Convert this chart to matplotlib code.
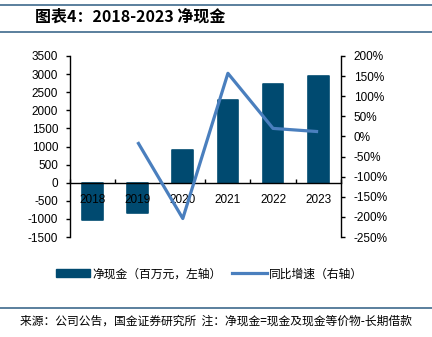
import matplotlib
matplotlib.use("Agg")
import matplotlib.pyplot as plt
from matplotlib.lines import Line2D
from matplotlib.patches import Patch
import numpy as np

plt.rcParams['font.family'] = ['Liberation Sans', 'Noto Sans CJK SC', 'DejaVu Sans']

years = ["2018", "2019", "2020", "2021", "2022", "2023"]
net_cash = [-1030, -850, 900, 2290, 2730, 2960]
growth_pct = [np.nan, -14, -204, 157, 20, 12]
left_ticks = [-1500, -1000, -500, 0, 500, 1000, 1500, 2000, 2500, 3000, 3500]
right_ticks = [-250, -200, -150, -100, -50, 0, 50, 100, 150, 200]

title = "图表4：2018-2023 净现金"
bar_label = "净现金（百万元，左轴）"
line_label = "同比增速（右轴）"
source = "来源：公司公告，国金证券研究所  注：净现金=现金及现金等价物-长期借款"

bar_color = "#004A70"
line_color = "#4A7FBE"
rule_color = "#3E6A8C"

fig = plt.figure(figsize=(4.32, 3.37), dpi=100)
ax = fig.add_axes([70/432, 1-237/337, (340.7-70)/432, (237-56)/337])
ax2 = ax.twinx()

x = np.arange(len(years))
ax.bar(x, net_cash, width=0.46, color=bar_color, edgecolor=bar_color,
       linewidth=1.2, joinstyle='round', zorder=2)
ax.set_xlim(-0.5, len(years)-0.5)
ax.set_ylim(-1500, 3500)
ax.set_yticks(left_ticks)
ax.set_yticklabels([str(v) for v in left_ticks])
ax.set_axisbelow(False)

ax2.plot(x, growth_pct, color=line_color, linewidth=2.3, solid_capstyle='butt', zorder=3)
ax2.set_ylim(-250, 200)
ax2.set_yticks(right_ticks)
ax2.set_yticklabels([f"{v}%" for v in right_ticks])

for a in (ax, ax2):
    a.spines['top'].set_visible(False)
    for s in a.spines.values():
        s.set_linewidth(1.0)
        s.set_color('black')
ax.spines['right'].set_visible(False)
ax2.spines['left'].set_visible(False)
ax2.spines['bottom'].set_visible(False)
ax.spines['bottom'].set_position(('data', 0))

ax.set_xticks(np.arange(-0.5, len(years), 1.0))
ax.set_xticklabels([])
ax.tick_params(axis='x', which='major', direction='in', length=3, width=1)
ax.set_xticks(x, minor=True)
ax.set_xticklabels(years, minor=True)
ax.tick_params(axis='x', which='minor', length=0, pad=8, labelsize=8.5)
ax.tick_params(axis='y', direction='out', length=3, width=1, labelsize=8.5, pad=5.5)
ax2.tick_params(axis='y', direction='out', length=3, width=1, labelsize=8.5, pad=6.5)

ax.set_zorder(1)
ax2.set_zorder(2)
ax.patch.set_visible(False)

handles = [Patch(facecolor=bar_color, edgecolor=bar_color, linewidth=1.0, joinstyle='round'),
           Line2D([0], [0], color=line_color, linewidth=2.3)]
fig.legend(handles, [bar_label, line_label], loc='center', bbox_to_anchor=(0.485, 1-274/337),
           ncol=2, frameon=False, handlelength=2.9, handleheight=0.65, handletextpad=0.2,
           columnspacing=0.9, prop={'family': ['Noto Sans CJK SC'], 'size': 8.5})

fig.text(35/432, 1-17/337, title, fontsize=11.5, fontweight='bold', style='italic',
         family=['Noto Sans CJK SC', 'DejaVu Sans'], va='center', ha='left', color='black')

for yy in (4.5, 31.5, 308):
    fig.add_artist(Line2D([0, 1], [1-yy/337, 1-yy/337], color=rule_color, linewidth=1.2,
                          transform=fig.transFigure))

fig.text(20/432, 1-321/337, source, fontsize=8.5, family=['Noto Sans CJK SC', 'DejaVu Sans'],
         va='center', ha='left', color='black')

fig.savefig("out.png", dpi=100)
